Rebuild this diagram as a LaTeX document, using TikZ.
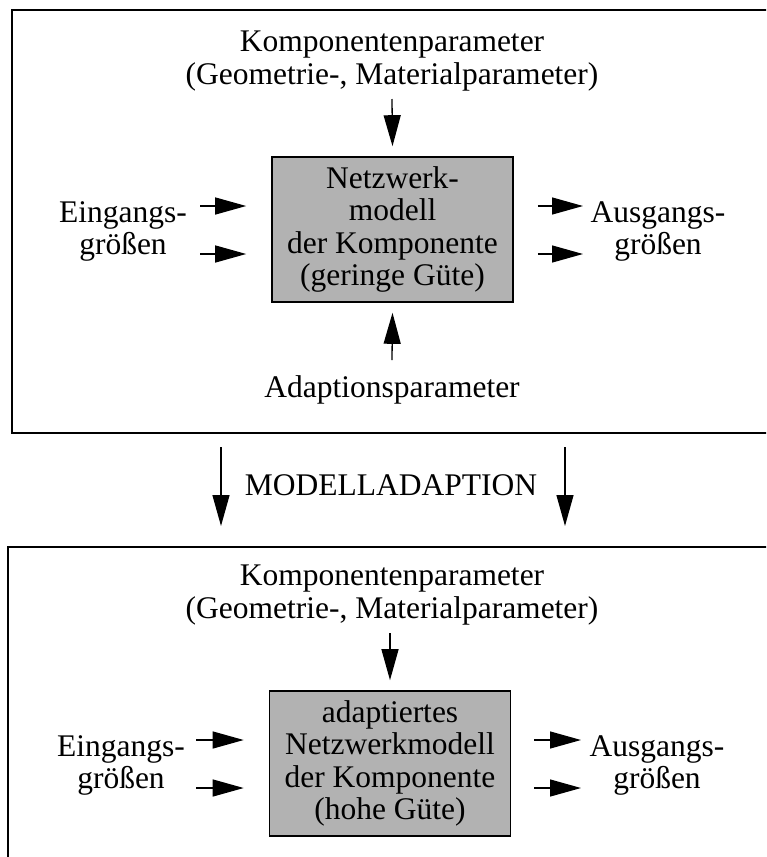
\documentclass[tikz,border=0pt]{standalone}
\usepackage{fontspec}
\setmainfont{Liberation Serif}
\usetikzlibrary{arrows.meta}
\newcommand\bigtext{\fontsize{31.5pt}{32.5pt}\selectfont}
\begin{document}
\begin{tikzpicture}[x=1pt,y=-1pt,
  frame/.style={draw=black,line width=2pt},
  model/.style={draw=black,line width=1.6pt,fill=black!30,
    minimum width=241pt,minimum height=145pt,align=center,
    inner sep=0pt,font=\bigtext},
  label/.style={anchor=base,inner sep=0pt,font=\bigtext},
  flow/.style={line width=1.3pt,-{Triangle[length=31pt,width=17pt]}}]
\useasboundingbox (0,0) rectangle (766,857);
\clip (0,0) rectangle (766,857);

% ---------- upper block: low-quality network model ----------
\draw[frame] (12,10) rectangle (800,433);
\node[label] (kpA) at (392,51) {Komponentenparameter};
\node[label] (gmA) at (392,84) {(Geometrie-, Materialparameter)};
\node[model] (mA) at (392.5,229.5) {Netzwerk-\\modell\\der Komponente\\(geringe Güte)};
\coordinate (kpinA) at (392,99);
\draw[flow] (kpinA) -- ([yshift=10pt]mA.north);

\node[label] (einA) at (123,222) {Eingangs-};
\node[label] (grinA) at (123,254) {größen};
\coordinate (inA1) at (200,206);
\coordinate (inA2) at (200,254);
\draw[flow] (inA1) -- ([xshift=-25pt]mA.west |- inA1);
\draw[flow] (inA2) -- ([xshift=-25pt]mA.west |- inA2);

\node[label] (ausA) at (658,222) {Ausgangs-};
\node[label] (groutA) at (658,254) {größen};
\coordinate (outA1) at (583,206);
\coordinate (outA2) at (583,254);
\draw[flow] ([xshift=24pt]mA.east |- outA1) -- (outA1);
\draw[flow] ([xshift=24pt]mA.east |- outA2) -- (outA2);

\node[label] (adp) at (392,397) {Adaptionsparameter};
\coordinate (adpin) at (392,360);
\draw[flow] (adpin) -- ([yshift=-10pt]mA.south);

% ---------- model adaptation step ----------
\node[label] (madp) at (391,495) {MODELLADAPTION};
\coordinate (dl1) at (221,447);
\coordinate (dl2) at (221,526);
\coordinate (dr1) at (565,447);
\coordinate (dr2) at (565,526);
\draw[flow] (dl1) -- (dl2);
\draw[flow] (dr1) -- (dr2);

% ---------- lower block: adapted network model ----------
\draw[frame] (8,547) rectangle (800,900);
\node[label] (kpB) at (392,585) {Komponentenparameter};
\node[label] (gmB) at (392,618) {(Geometrie-, Materialparameter)};
\node[model] (mB) at (390,763.5) {adaptiertes\\Netzwerkmodell\\der Komponente\\(hohe Güte)};
\coordinate (kpinB) at (390,633);
\draw[flow] (kpinB) -- ([yshift=10pt]mB.north);

\node[label] (einB) at (121,756) {Eingangs-};
\node[label] (grinB) at (121,788) {größen};
\coordinate (inB1) at (196,740);
\coordinate (inB2) at (196,788);
\draw[flow] (inB1) -- ([xshift=-25pt]mB.west |- inB1);
\draw[flow] (inB2) -- ([xshift=-25pt]mB.west |- inB2);

\node[label] (ausB) at (657,756) {Ausgangs-};
\node[label] (groutB) at (657,788) {größen};
\coordinate (outB1) at (581,740);
\coordinate (outB2) at (581,788);
\draw[flow] ([xshift=23pt]mB.east |- outB1) -- (outB1);
\draw[flow] ([xshift=23pt]mB.east |- outB2) -- (outB2);
\end{tikzpicture}
\end{document}
